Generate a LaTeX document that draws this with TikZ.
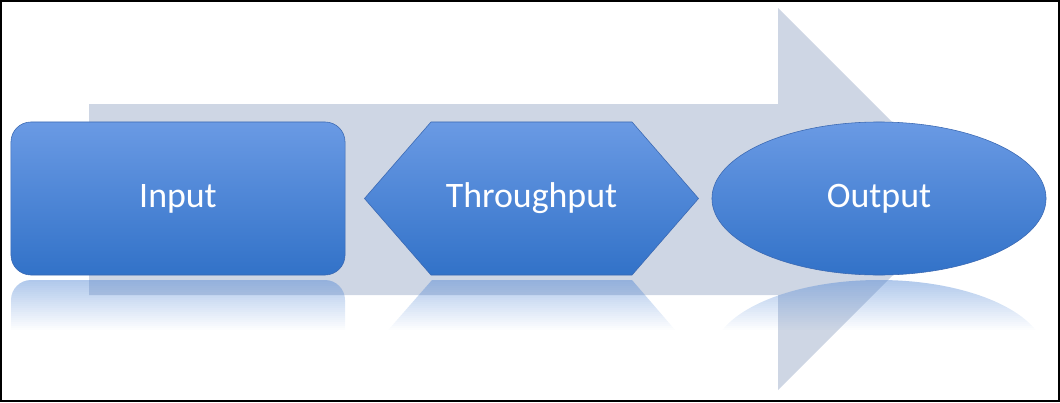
\documentclass[tikz,border=0pt]{standalone}
\usepackage{fontspec}
\setmainfont{Carlito}
\usetikzlibrary{shapes.geometric,shapes.symbols}
\definecolor{arrowgrey}{RGB}{206,214,228}
\definecolor{boxtop}{RGB}{106,154,228}
\definecolor{boxmid}{RGB}{60,126,212}
\definecolor{boxbot}{RGB}{50,114,200}
\definecolor{boxedge}{RGB}{58,104,178}
\definecolor{reflblue}{RGB}{80,134,212}
\tikzset{ box/.style = { draw = boxedge % shaded shape
        , thin
        , top color = boxtop
        , middle color = boxmid
        , bottom color = boxbot
        , text = white
        , font = \fontsize{25.5}{30}\selectfont
        , minimum width = 8.35cm
        , minimum height = 3.825cm
        , inner sep = 0pt
        }
        }

\begin{document}
\begin{tikzpicture}[x=0.025cm, y=-0.025cm,
        rbox/.style={box,rectangle,rounded corners=0.5cm},
        hbox/.style={box,signal,signal to=west and east,signal pointer angle=98},
        ebox/.style={box,ellipse}]
        \useasboundingbox (0,0) rectangle (1060,402);
        % big arrow behind
        \fill[arrowgrey] (89,104) -- (778,104) -- (778,8) -- (969,199) -- (778,390) -- (778,295) -- (89,295) -- cycle;
        % reflections
        \begin{scope}
        \clip (11,280) [rounded corners=0.5cm] rectangle (345,433)
              (365,356.5) [sharp corners] -- (432,280) -- (632,280) -- (698,356.5) -- (632,433) -- (432,433) -- cycle
              (879,356.5) ellipse [x radius=167, y radius=76.5];
        \foreach \i in {0,...,24}
            \fill[reflblue, opacity={0.45*(1-\i/25)}] (0,280+2*\i) rectangle (1060,282+2*\i);
        \end{scope}
        \node [rbox](input) at (178,198.5) {Input};
        \node [hbox](through) at (531.5,198.5) {Throughput};
        \node [ebox](output) at (879,198.5) {Output};
        \draw[line width=1.2pt] (0.8,0.8) rectangle (1059.2,401.2);
\end{tikzpicture}
\end{document}
